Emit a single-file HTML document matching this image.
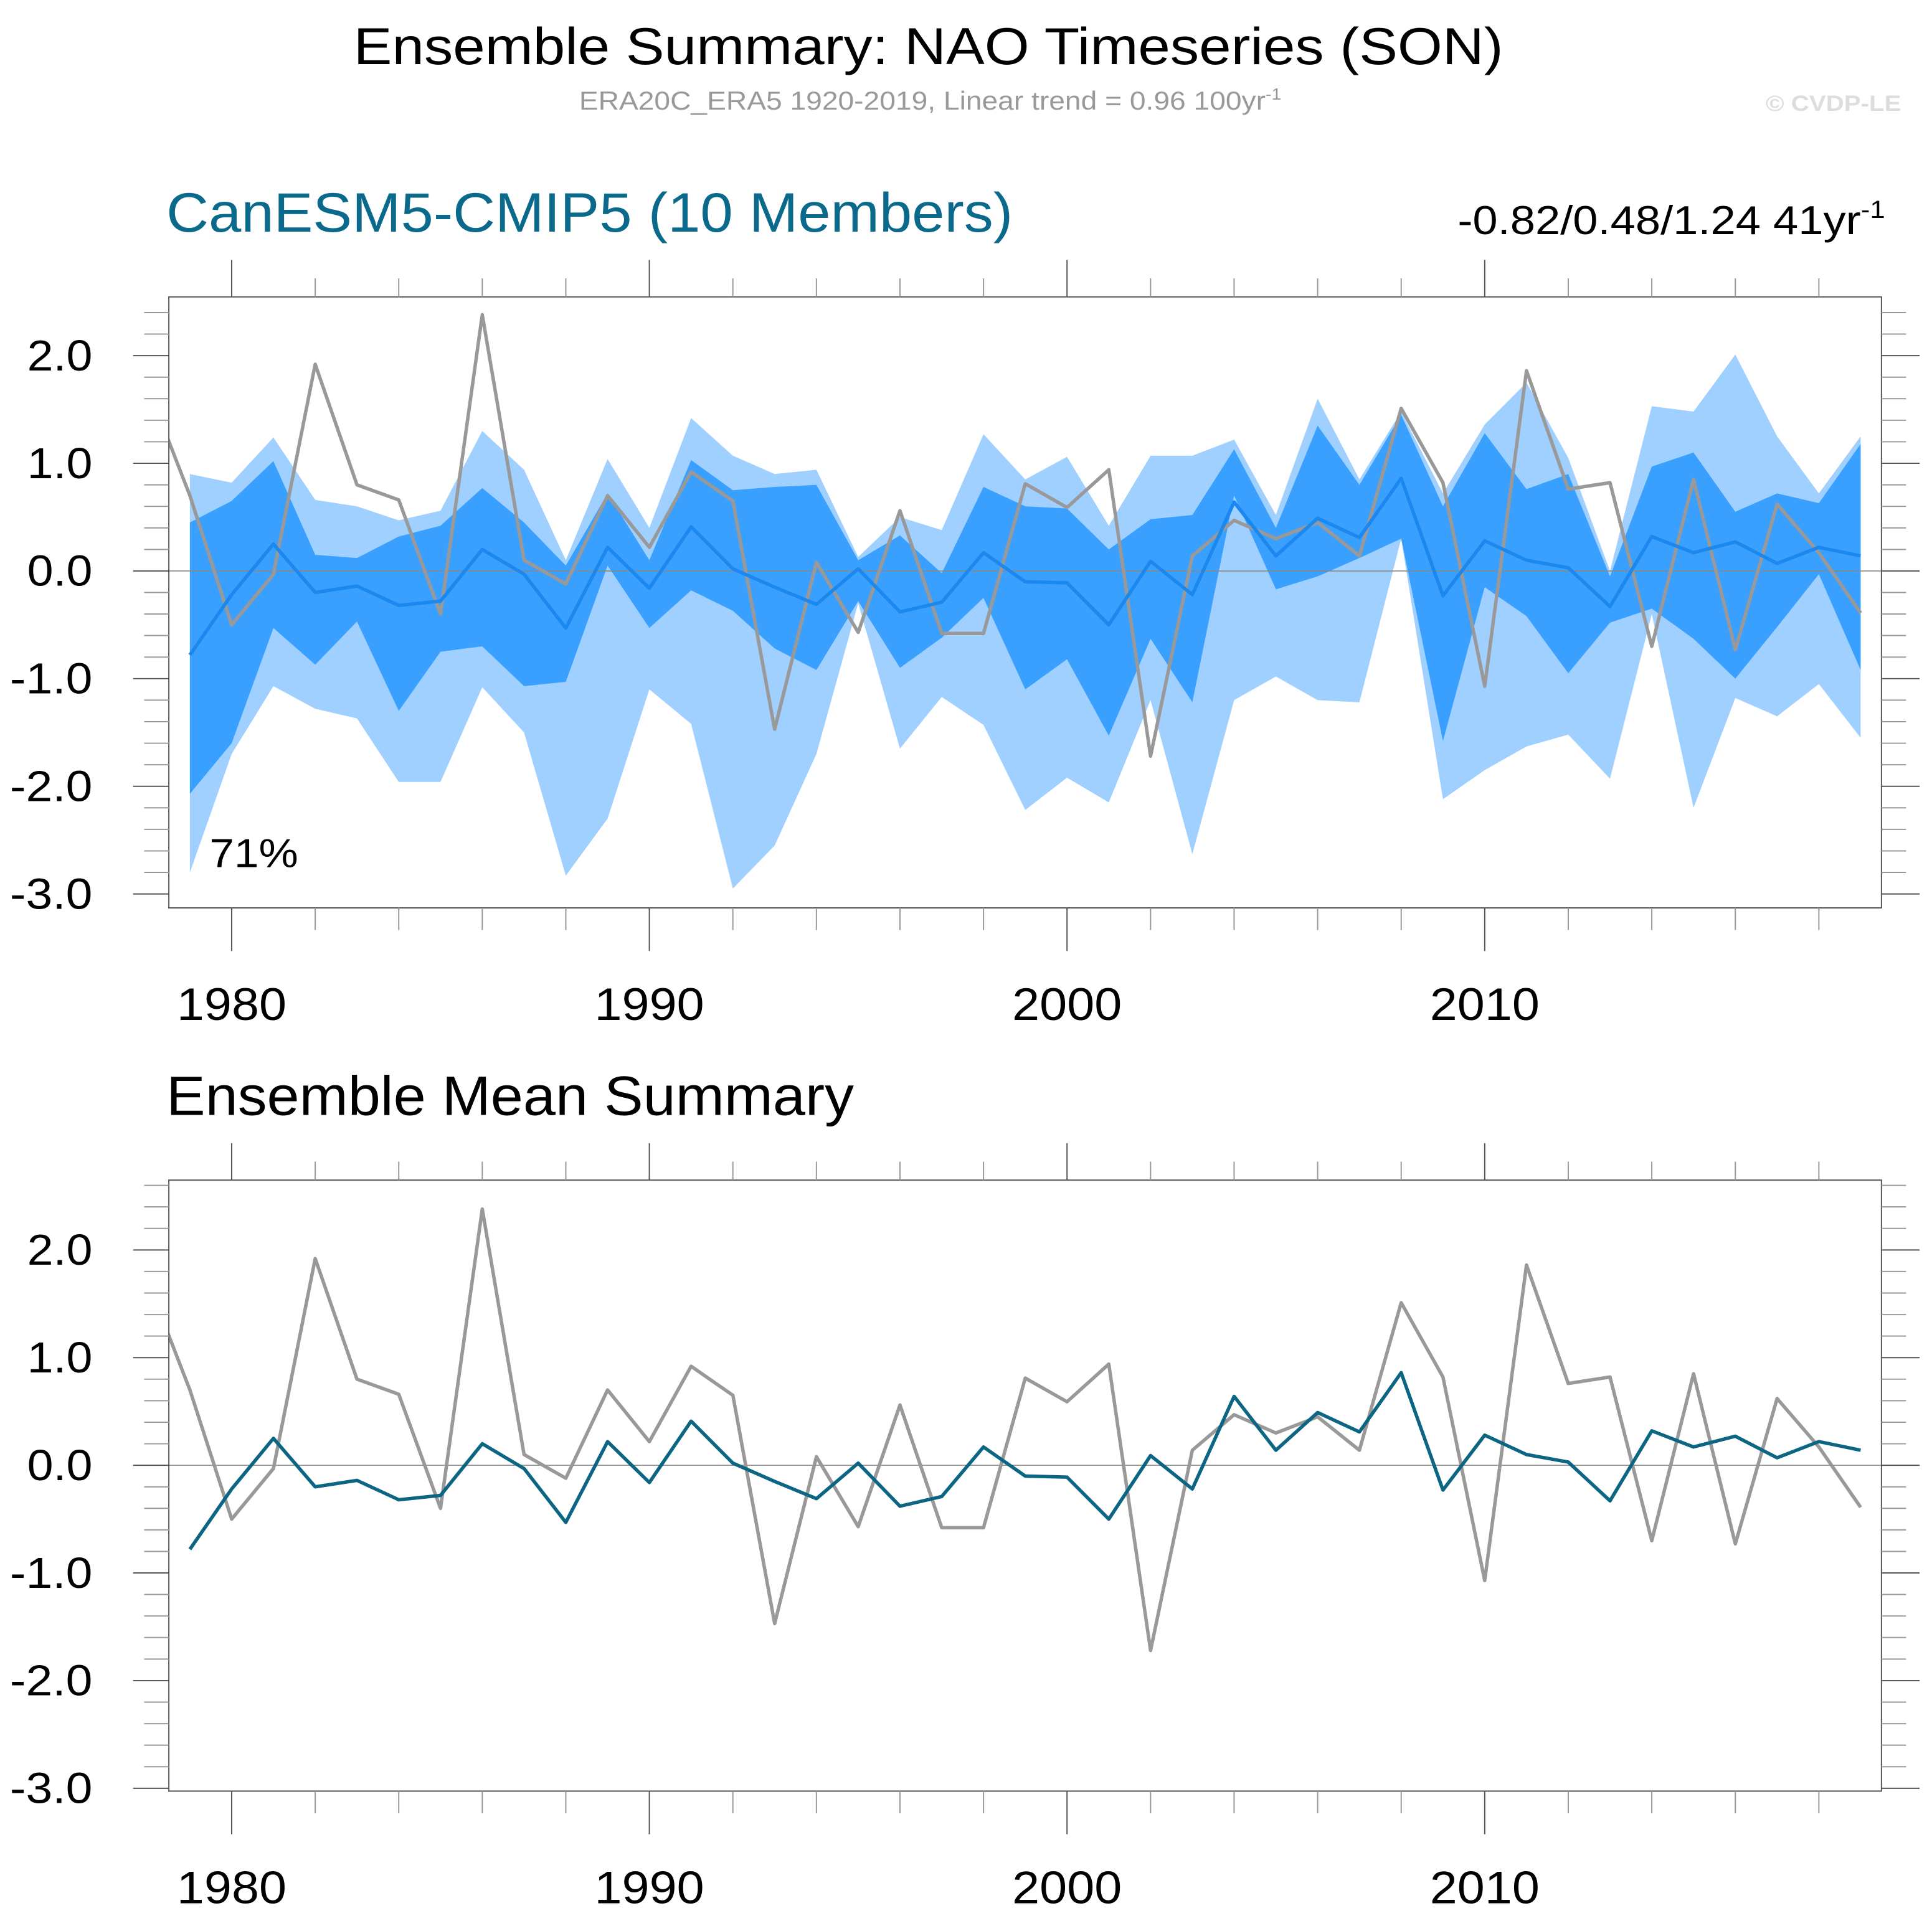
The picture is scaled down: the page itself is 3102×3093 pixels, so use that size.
<!DOCTYPE html>
<html><head><meta charset="utf-8"><style>
html,body{margin:0;padding:0;background:#fff;}
svg{display:block;font-family:"Liberation Sans",sans-serif;}
</style></head><body>
<svg id="fig" width="3102" height="3093" viewBox="0 0 1568 1563.5" xmlns="http://www.w3.org/2000/svg">
<text x="287" y="52" font-size="42" textLength="933" lengthAdjust="spacingAndGlyphs" fill="#000">Ensemble Summary: NAO Timeseries (SON)</text>
<text x="470" y="89" font-size="21" textLength="570" lengthAdjust="spacingAndGlyphs" fill="#999">ERA20C_ERA5 1920-2019, Linear trend = 0.96 100yr<tspan dy="-8" font-size="13">-1</tspan></text>
<text x="1433" y="90" font-size="18" font-weight="bold" textLength="110" lengthAdjust="spacingAndGlyphs" fill="#ddd">© CVDP-LE</text>
<text x="135" y="188" font-size="45" textLength="687" lengthAdjust="spacingAndGlyphs" fill="#0b6a8c">CanESM5-CMIP5 (10 Members)</text>
<text x="1183" y="190" font-size="33" textLength="347" lengthAdjust="spacingAndGlyphs" fill="#000">-0.82/0.48/1.24 41yr<tspan dy="-13" font-size="20">-1</tspan></text>
<text x="135" y="905" font-size="45" textLength="558" lengthAdjust="spacingAndGlyphs" fill="#000">Ensemble Mean Summary</text>
<g id="p1"></g>
<g id="p2"></g>
</svg>
<script>
const years = [1979,1980,1981,1982,1983,1984,1985,1986,1987,1988,1989,1990,1991,1992,1993,1994,1995,1996,1997,1998,1999,2000,2001,2002,2003,2004,2005,2006,2007,2008,2009,2010,2011,2012,2013,2014,2015,2016,2017,2018,2019];
const ensMean = [-0.78,-0.22,0.25,-0.2,-0.14,-0.32,-0.28,0.2,-0.03,-0.53,0.22,-0.16,0.41,0.02,-0.15,-0.31,0.02,-0.38,-0.29,0.17,-0.1,-0.11,-0.5,0.09,-0.22,0.64,0.14,0.49,0.31,0.86,-0.23,0.28,0.1,0.03,-0.33,0.32,0.17,0.27,0.07,0.22,0.14];
const obsYears = [1978,1979,1980,1981,1982,1983,1984,1985,1986,1987,1988,1989,1990,1991,1992,1993,1994,1995,1996,1997,1998,1999,2000,2001,2002,2003,2004,2005,2006,2007,2008,2009,2010,2011,2012,2013,2014,2015,2016,2017,2018,2019];
const obs = [1.7,0.7,-0.5,-0.03,1.92,0.8,0.66,-0.4,2.38,0.1,-0.12,0.7,0.22,0.92,0.65,-1.47,0.08,-0.57,0.56,-0.58,-0.58,0.81,0.59,0.94,-1.72,0.14,0.47,0.3,0.45,0.14,1.51,0.82,-1.07,1.86,0.76,0.82,-0.7,0.85,-0.73,0.62,0.17,-0.39];
const rangeMax = [0.9,0.82,1.24,0.66,0.6,0.47,0.56,1.3,0.94,0.1,1.04,0.4,1.42,1.07,0.9,0.94,0.13,0.5,0.38,1.27,0.85,1.06,0.42,1.07,1.07,1.22,0.52,1.6,0.85,1.48,0.72,1.36,1.75,1.05,0.0,1.53,1.48,2.01,1.25,0.72,1.25];
const rangeMin = [-2.8,-1.7,-1.07,-1.28,-1.37,-1.96,-1.96,-1.08,-1.5,-2.83,-2.3,-1.1,-1.42,-2.95,-2.55,-1.7,-0.3,-1.65,-1.17,-1.43,-2.22,-1.92,-2.15,-1.2,-2.63,-1.2,-0.98,-1.2,-1.22,0.3,-2.12,-1.85,-1.63,-1.52,-1.93,-0.4,-2.2,-1.18,-1.35,-1.05,-1.55];
const iqrHigh = [0.45,0.65,1.02,0.15,0.12,0.32,0.42,0.77,0.45,0.05,0.72,0.1,1.03,0.75,0.78,0.8,0.1,0.33,-0.02,0.78,0.6,0.58,0.2,0.48,0.52,1.13,0.4,1.35,0.8,1.45,0.6,1.28,0.76,0.9,-0.05,0.97,1.1,0.55,0.72,0.63,1.18];
const iqrLow = [-2.07,-1.6,-0.53,-0.87,-0.47,-1.3,-0.75,-0.7,-1.07,-1.03,0.05,-0.53,-0.18,-0.37,-0.72,-0.92,-0.28,-0.9,-0.62,-0.25,-1.1,-0.82,-1.53,-0.63,-1.22,0.7,-0.17,-0.05,0.12,0.3,-1.58,-0.15,-0.42,-0.95,-0.48,-0.35,-0.63,-1.0,-0.52,-0.03,-0.92];
const yTicks = [2,1,0,-1,-2,-3];
const yTickLabels = ["2.0","1.0","0.0","-1.0","-2.0","-3.0"];
const xTicks = [1980,1990,2000,2010];

const NS="http://www.w3.org/2000/svg";
function mk(parent,tag,attrs){const e=document.createElementNS(NS,tag);for(const k in attrs)e.setAttribute(k,attrs[k]);parent.appendChild(e);return e;}
const X0=137,X1=1527;
function xs(yr){return 188+(yr-1980)*33.9;}

function panel(g,id,top,bot,zeroY,showBands,meanColor){
  const ys=v=>zeroY-v*87.4;
  const cp=mk(g,'clipPath',{id:'clip'+id});
  mk(cp,'rect',{x:X0,y:top,width:X1-X0,height:bot-top});
  const body=mk(g,'g',{'clip-path':'url(#clip'+id+')'});
  if(showBands){
    let d1=years.map((y,i)=>xs(y)+','+ys(rangeMax[i])).join(' ')+' '+years.slice().reverse().map((y,j)=>xs(y)+','+ys(rangeMin[years.length-1-j])).join(' ');
    const p1=mk(body,'polygon',{points:d1,fill:'#a0d0ff'});
    
    
    let d2=years.map((y,i)=>xs(y)+','+ys(iqrHigh[i])).join(' ')+' '+years.slice().reverse().map((y,j)=>xs(y)+','+ys(iqrLow[years.length-1-j])).join(' ');
    const p2=mk(body,'polygon',{points:d2,fill:'#3aa0ff'});
    
    
  }
  const z=mk(body,'line',{x1:X0,x2:X1,y1:ys(0),y2:ys(0),stroke:'#888','stroke-width':0.8});
  
  
  const ob=mk(body,'polyline',{points:obsYears.map((y,i)=>xs(y)+','+ys(obs[i])).join(' '),fill:'none',stroke:'#999','stroke-width':2.8,'stroke-linejoin':'round'});
  
  
  const ml=mk(body,'polyline',{points:years.map((y,i)=>xs(y)+','+ys(ensMean[i])).join(' '),fill:'none',stroke:meanColor,'stroke-width':2.8,'stroke-linejoin':'round'});
  
  
  const fr=mk(g,'rect',{x:X0,y:top,width:X1-X0,height:bot-top,fill:'none',stroke:'#555','stroke-width':1});
  
  
  for(let yr=1978;yr<=2019;yr+=2){
    const x=xs(yr); if(x<X0||x>X1)continue;
    const major=yr%10===0;
    mk(g,'line',{x1:x,x2:x,y1:top,y2:top-(major?30:15),stroke:major?'#555':'#999','stroke-width':1});
    mk(g,'line',{x1:x,x2:x,y1:bot,y2:bot+(major?35:18),stroke:major?'#555':'#999','stroke-width':1});
  }
  xTicks.forEach(yr=>{
    const t=mk(g,'text',{x:xs(yr)-44.5,y:bot+91,'font-size':37,textLength:89,lengthAdjust:'spacingAndGlyphs',fill:'#000'});
    t.textContent=yr;
    
    
  });
  for(let k=-30;k<=30;k+=2){
    const v=k/10, y=ys(v); if(y<top||y>bot)continue;
    const major=k%10===0;
    mk(g,'line',{x1:X0,x2:X0-(major?29:20),y1:y,y2:y,stroke:major?'#555':'#999','stroke-width':1});
    mk(g,'line',{x1:X1,x2:X1+(major?31:20),y1:y,y2:y,stroke:major?'#555':'#999','stroke-width':1});
  }
  yTicks.forEach((v,i)=>{
    const w=yTickLabels[i].startsWith('-')?67:53;
    const t=mk(g,'text',{x:75-w,y:ys(v)+12,'font-size':35,textLength:w,lengthAdjust:'spacingAndGlyphs',fill:'#000'});
    t.textContent=yTickLabels[i];
    
    
  });
}
panel(document.getElementById('p1'),1,241,737,463.5,true,'#1a88ee');
panel(document.getElementById('p2'),2,958,1454,1189.5,false,'#0b6583');
const pct=mk(document.getElementById('p1'),'text',{x:170,y:704,'font-size':33,textLength:72,lengthAdjust:'spacingAndGlyphs',fill:'#000'});
pct.textContent='71%';


</script>
</body></html>
